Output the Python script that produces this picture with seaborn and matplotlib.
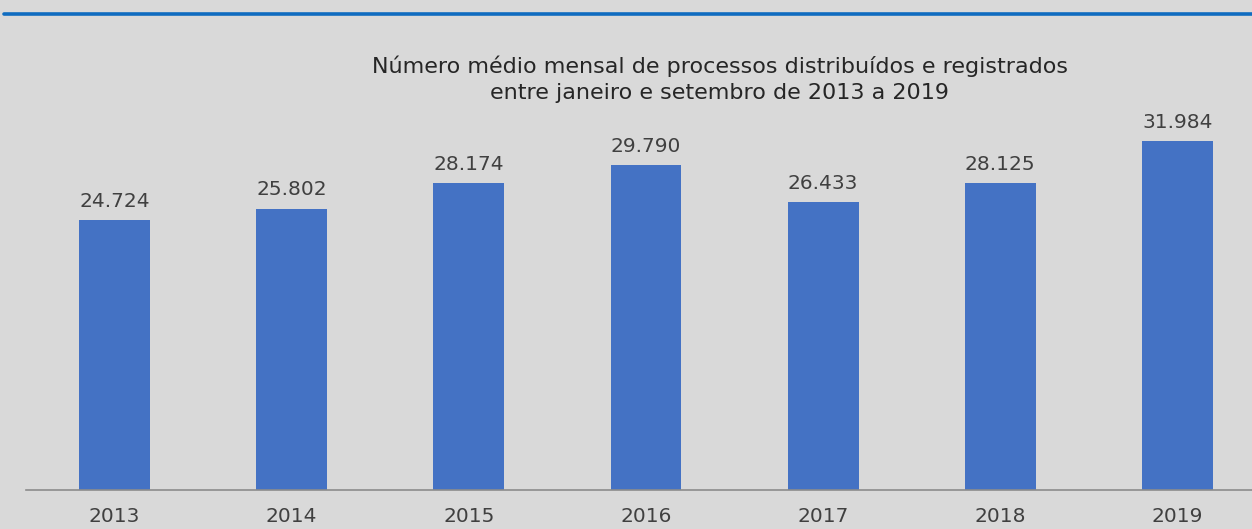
import matplotlib
matplotlib.use('Agg')
import matplotlib.pyplot as plt
from matplotlib.lines import Line2D
import seaborn as sns
import pandas as pd

anos = ['2013', '2014', '2015', '2016', '2017', '2018', '2019']
processos = [24724, 25802, 28174, 29790, 26433, 28125, 31984]
rotulos = ['24.724', '25.802', '28.174', '29.790', '26.433', '28.125', '31.984']

df = pd.DataFrame({'ano': anos, 'processos': processos})

sns.set_theme(style='white')
plt.rcParams['font.family'] = ['DejaVu Sans']

fundo = '#d9d9d9'
texto = '#404040'

fig = plt.figure(figsize=(12.52, 5.29), dpi=100, facecolor=fundo)
ax = fig.add_axes([26 / 1252, 39 / 529, 1240 / 1252, 450 / 529])
ax.set_facecolor(fundo)

sns.barplot(data=df, x='ano', y='processos', color='#4472c4', saturation=1,
            width=0.40, linewidth=0, ax=ax)

ax.set_ylim(0, 450 / 0.01091)
ax.set_xlim(-0.5, 6.5)
for p, r in zip(ax.patches, rotulos):
    ax.annotate(r, (p.get_x() + p.get_width() / 2, p.get_height()),
                xytext=(0, 6.5), textcoords='offset points', ha='center', va='bottom',
                fontsize=14.5, color=texto)

ax.set_xlabel('')
ax.set_ylabel('')
ax.set_yticks([])
ax.tick_params(axis='x', length=0, pad=12, labelsize=14.5, labelcolor=texto)
for s in ['top', 'right', 'left']:
    ax.spines[s].set_visible(False)
ax.spines['bottom'].set_color('#8c8c8c')
ax.spines['bottom'].set_linewidth(1.2)

fig.text(720 / 1252, 1 - 79 / 529,
         'Número médio mensal de processos distribuídos e registrados\nentre janeiro e setembro de 2013 a 2019',
         ha='center', va='center', fontsize=16, color='#262626', linespacing=1.4)

fig.add_artist(Line2D([4 / 1252, 1], [1 - 14 / 529, 1 - 14 / 529],
                      color='#0f6cc0', linewidth=2.6))

plt.savefig('out.png', dpi=100, facecolor=fundo)
